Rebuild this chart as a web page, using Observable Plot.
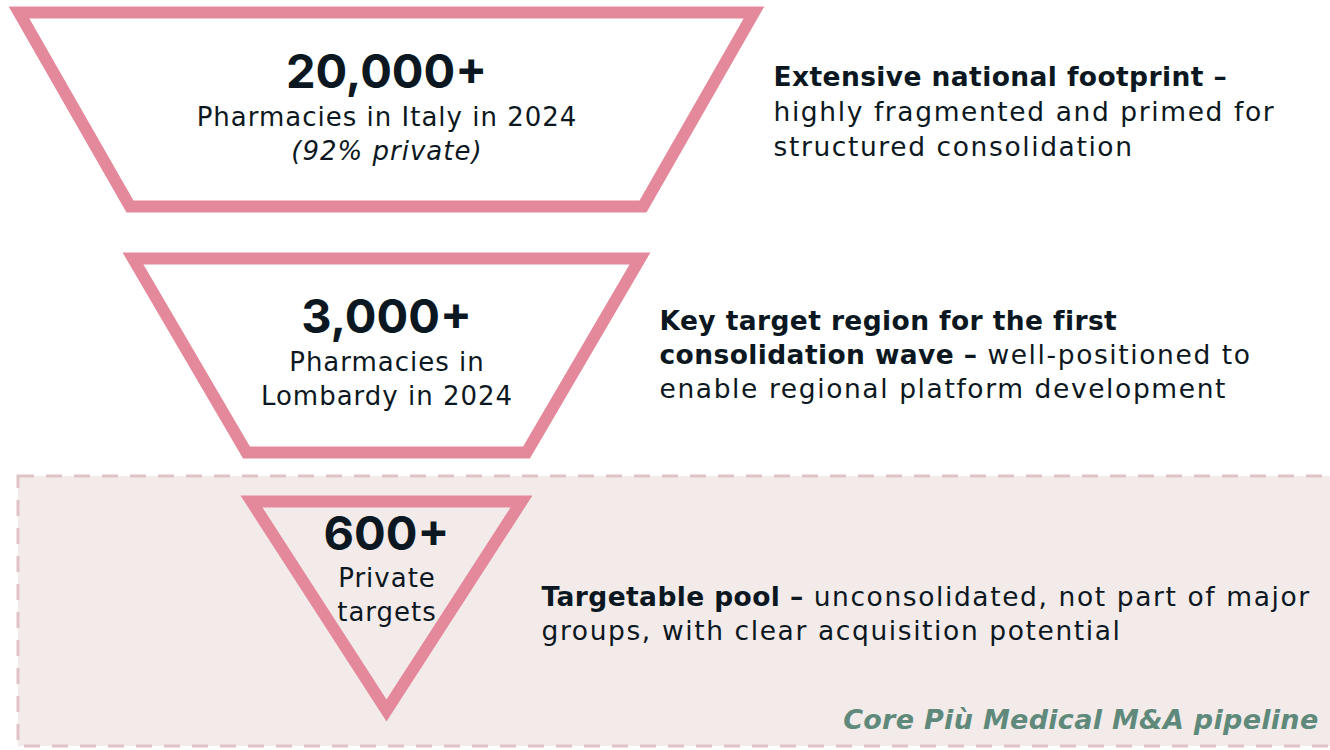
<!DOCTYPE html>
<html><head><meta charset="utf-8">
<script src="https://cdn.jsdelivr.net/npm/d3@7"></script>
<script src="https://cdn.jsdelivr.net/npm/@observablehq/plot@0.6"></script>
<style>
body{margin:0;background:#fff;overflow:hidden;}
#chart svg{display:block;font-family:"DejaVu Sans",sans-serif;}
</style></head>
<body><div id="chart"></div>
<script>
// ---- data ----
const stages = ["Italy", "Lombardy", "Targets"];
const headlines = ["20,000+", "3,000+", "600+"];
const subLabels = [
  ["Pharmacies in Italy in 2024", "(92% private)"],
  ["Pharmacies in", "Lombardy in 2024"],
  ["Private", "targets"]
];
const subItalic = [[false, true], [false, false], [false, false]];
// each description: lines, each line a list of [text, bold]
const descriptions = [
  [[["Extensive national footprint –", true]],
   [["highly fragmented and primed for", false]],
   [["structured consolidation", false]]],
  [[["Key target region for the first", true]],
   [["consolidation wave –", true], [" well-positioned to", false]],
   [["enable regional platform development", false]]],
  [[["Targetable pool –", true], [" unconsolidated, not part of major", false]],
   [["groups, with clear acquisition potential", false]]]
];
const caption = "Core Più Medical M&A pipeline";

// ---- layout (pixel space) ----
const W = 1330, H = 750;
const cx = 386;
const shapes = [ // top y, bottom y, top half-width, bottom half-width
  {top: 12, bottom: 206, topHalf: 367.5, bottomHalf: 256.5},
  {top: 258, bottom: 452, topHalf: 253.5, bottomHalf: 140},
  {top: 501, bottom: 710, topHalf: 135, bottomHalf: 0}
];
const headlineY = [72, 317, 534];
const subY = [[117, 151], [362, 396], [578, 612]];
const descX = [773, 659, 541];
const descY = [[77, 112, 147], [321, 355, 389], [597, 631]];

const pink = "#e4899b", ink = "#0c1821", green = "#5f8a7b";

// outline points (closed, with overlap for a mitered start corner)
const outline = [];
stages.forEach((s, i) => {
  const g = shapes[i];
  const corners = [
    [cx - g.topHalf, g.top], [cx + g.topHalf, g.top],
    ...(g.bottomHalf > 0
      ? [[cx + g.bottomHalf, g.bottom], [cx - g.bottomHalf, g.bottom]]
      : [[cx, g.bottom]])
  ];
  [...corners, corners[0], corners[1]].forEach(([x, y]) => outline.push({stage: s, x, y}));
});

const heads = stages.map((s, i) => ({text: headlines[i], x: cx, y: headlineY[i]}));
const subs = [];
stages.forEach((s, i) => subLabels[i].forEach((t, j) =>
  subs.push({text: t, x: cx + 0.5, y: subY[i][j], italic: subItalic[i][j]})));
const descRows = [];
stages.forEach((s, i) => descriptions[i].forEach((segs, j) =>
  descRows.push({segs, text: segs.map(d => d[0]).join(""), x: descX[i], y: descY[i][j]})));

const plot = Plot.plot({
  width: W, height: H,
  margin: 0,
  x: {domain: [0, W], range: [0, W], axis: null},
  y: {domain: [0, H], range: [0, H], axis: null},
  marks: [
    Plot.rect([{x1: 18, x2: W + 20, y1: 476, y2: 746}], {
      x1: "x1", x2: "x2", y1: "y1", y2: "y2",
      fill: "#f3eaea", stroke: "#dfc3c6", strokeWidth: 3, strokeDasharray: "16 12"
    }),
    Plot.line(outline, {
      x: "x", y: "y", z: "stage", stroke: pink, strokeWidth: 12,
      strokeLinejoin: "miter", strokeMiterlimit: 10, curve: "linear"
    }),
    Plot.text(heads, {x: "x", y: "y", text: "text", fontSize: 47, fontWeight: 700, fontFamily: "Inter", fill: ink, lineAnchor: "middle"}),
    Plot.text(subs.filter(d => !d.italic), {x: "x", y: "y", text: "text", fontSize: 26, fill: ink, lineAnchor: "middle"}),
    Plot.text(subs.filter(d => d.italic), {x: "x", y: "y", text: "text", fontSize: 26, fontStyle: "italic", fill: ink, lineAnchor: "middle"}),
    Plot.text(descRows, {x: "x", y: "y", text: "text", fontSize: 26.5, fill: ink, textAnchor: "start", lineAnchor: "middle"}),
    Plot.text([{text: caption, x: 1318, y: 720}], {x: "x", y: "y", text: "text", fontSize: 27, fontWeight: 700, fontStyle: "italic", fill: green, textAnchor: "end", lineAnchor: "middle"})
  ]
});

const svg = d3.select(plot);
// widen the regular sub-labels a little
const subSet = new Set(subs.map(d => d.text));
svg.selectAll("text").filter(function() { return subSet.has(this.textContent); }).attr("letter-spacing", 1.0);
svg.selectAll("text").filter(function() { return this.textContent === caption; }).attr("letter-spacing", 0.3);
// mixed-weight description lines
const byText = new Map(descRows.map(r => [r.text, r]));
svg.selectAll("text").each(function() {
  const row = byText.get(this.textContent);
  if (!row) return;
  const t = d3.select(this);
  t.text(null);
  row.segs.forEach(([str, bold]) => t.append("tspan")
    .attr("font-weight", bold ? 700 : 400)
    .attr("letter-spacing", bold ? 0.4 : 1.6)
    .text(str));
});

document.getElementById("chart").appendChild(plot);
</script>
</body></html>
